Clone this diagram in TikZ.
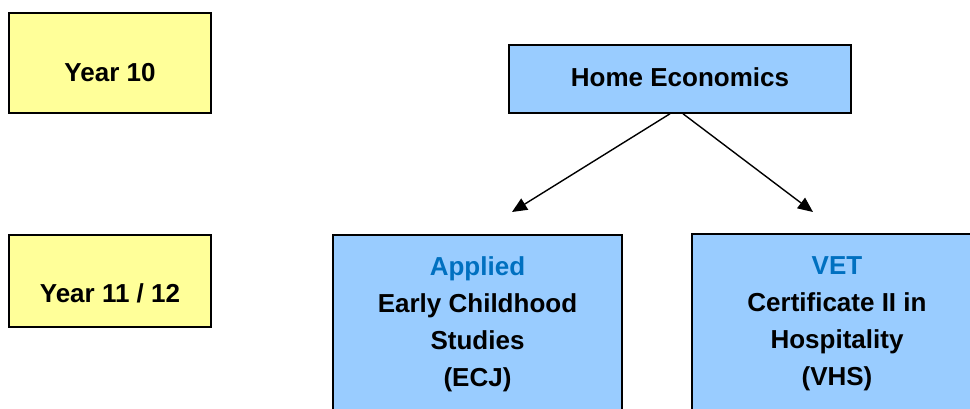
\documentclass[tikz,border=0pt]{standalone}
\usepackage{fontspec}
\setmainfont{Liberation Sans}
\usetikzlibrary{arrows.meta}
\definecolor{yellowbox}{HTML}{FFFF99}
\definecolor{bluebox}{HTML}{99CCFF}
\definecolor{bluetext}{HTML}{0070C0}
\tikzset{
  yearbox/.style={draw=black, line width=1.5pt, fill=yellowbox, inner sep=0pt},
  subjbox/.style={draw=black, line width=1.5pt, fill=bluebox, inner sep=0pt},
  lbl/.style={font=\fontsize{26}{37}\selectfont\bfseries, inner sep=0pt, align=center},
  conn/.style={line width=1.4pt, -{Triangle[length=15pt,width=13pt]}}
}
\begin{document}
\begin{tikzpicture}[x=1pt,y=-1pt]
\useasboundingbox (0,0) rectangle (970,408);
\clip (0,0) rectangle (970,408);
\fill[white] (0,0) rectangle (970,408);
% year boxes
\node[yearbox, minimum width=202pt, minimum height=100pt] (y10) at (110,63) {};
\node[lbl] (y10t) at (110,73) {Year 10};
\node[yearbox, minimum width=202pt, minimum height=92pt] (y11) at (110,281) {};
\node[lbl] (y11t) at (110,293) {Year 11 / 12};
% home economics
\node[subjbox, minimum width=342pt, minimum height=68pt] (he) at (680,79) {};
\node[lbl] (het) at (680,77) {Home Economics};
% lower boxes (extend beyond the picture)
\node[subjbox, minimum width=289pt, minimum height=230pt] (ecj) at (477.5,350) {};
\node[lbl, anchor=north] (ecjt) at (477.5,256) {\textcolor{bluetext}{Applied}\\Early Childhood\\Studies\\(ECJ)};
\node[subjbox, minimum width=290pt, minimum height=230pt] (vhs) at (837,349) {};
\node[lbl, anchor=north] (vhst) at (837,256) {\textcolor{bluetext}{VET}\\Certificate II in\\Hospitality\\(VHS)};
% connectors
\coordinate (tipL) at (512,212);
\coordinate (tipR) at (813,212);
\draw[conn] ([xshift=-10pt]he.south) -- (tipL);
\draw[conn] ([xshift=3pt]he.south) -- (tipR);
\end{tikzpicture}
\end{document}
